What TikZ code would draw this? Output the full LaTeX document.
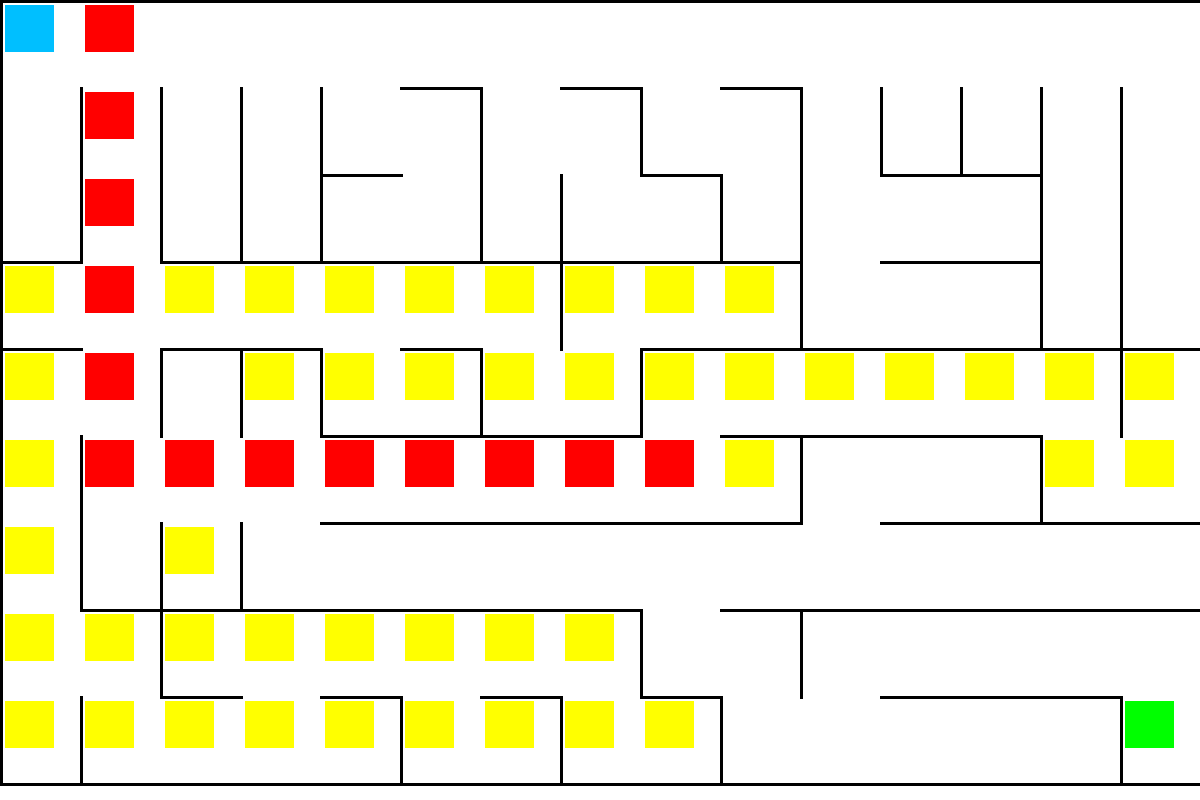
\documentclass[tikz,border=0pt]{standalone}
\definecolor{startBlue}{RGB}{0,191,255}
\definecolor{pathRed}{RGB}{255,0,0}
\definecolor{seenYellow}{RGB}{255,255,0}
\definecolor{goalGreen}{RGB}{0,255,0}
\begin{document}
\begin{tikzpicture}
[x=80pt, y=-87pt,
  wallDecorate/.style={line width=3pt,line cap=rect},%
  cellDecorate/.style={anchor=north west,inner sep=0pt,minimum width=49pt,
    minimum height=47pt,xshift=5pt,yshift=-5pt}]
\fill[white] (0pt,0pt) rectangle (1200pt,-800pt);
\useasboundingbox (0pt,0pt) rectangle (1200pt,-800pt);
%% cells
\foreach \row/\first/\last/\shade in {
  0/0/0/startBlue, 0/1/1/pathRed, 1/1/1/pathRed, 2/1/1/pathRed,
  3/0/0/seenYellow, 3/1/1/pathRed, 3/2/9/seenYellow,
  4/0/0/seenYellow, 4/1/1/pathRed, 4/3/14/seenYellow,
  5/0/0/seenYellow, 5/1/8/pathRed, 5/9/9/seenYellow, 5/13/14/seenYellow,
  6/0/0/seenYellow, 6/2/2/seenYellow, 7/0/7/seenYellow,
  8/0/8/seenYellow, 8/14/14/goalGreen}
{
  \foreach \col in {\first,...,\last}
    \node (sq-\col-\row) at (\col,\row) [cellDecorate,fill=\shade] {};
}
\begin{scope}[shift={(1.5pt,-1.5pt)}]
%% horizontal walls
\foreach \row/\from/\to in {
  0/0/15, 1/5/6, 1/7/8, 1/9/10, 2/4/5, 2/8/9, 2/11/13,
  3/0/1, 3/2/10, 3/11/13, 4/0/1, 4/2/4, 4/5/6, 4/8/15,
  5/4/8, 5/9/13, 6/4/10, 6/11/15, 7/1/8, 7/9/15,
  8/2/3, 8/4/5, 8/6/7, 8/8/9, 8/11/14, 9/0/15}
{
  \draw[wallDecorate] (\from,\row) -- (\to,\row);
}
%% vertical walls
\foreach \col/\from/\to in {
  0/0/9, 1/1/3, 1/5/7, 1/8/9, 2/1/3, 2/4/5, 2/6/8,
  3/1/3, 3/4/5, 3/6/7, 4/1/3, 4/4/5, 5/8/9, 6/1/3, 6/4/5,
  7/2/4, 7/8/9, 8/1/2, 8/4/5, 8/7/8, 9/2/3, 9/8/9,
  10/1/4, 10/5/6, 10/7/8, 11/1/2, 12/1/2, 13/1/4, 13/5/6,
  14/1/5, 14/8/9}
{
  \draw[wallDecorate] (\col,\from) -- (\col,\to);
}
\end{scope}
\end{tikzpicture}
\end{document}
